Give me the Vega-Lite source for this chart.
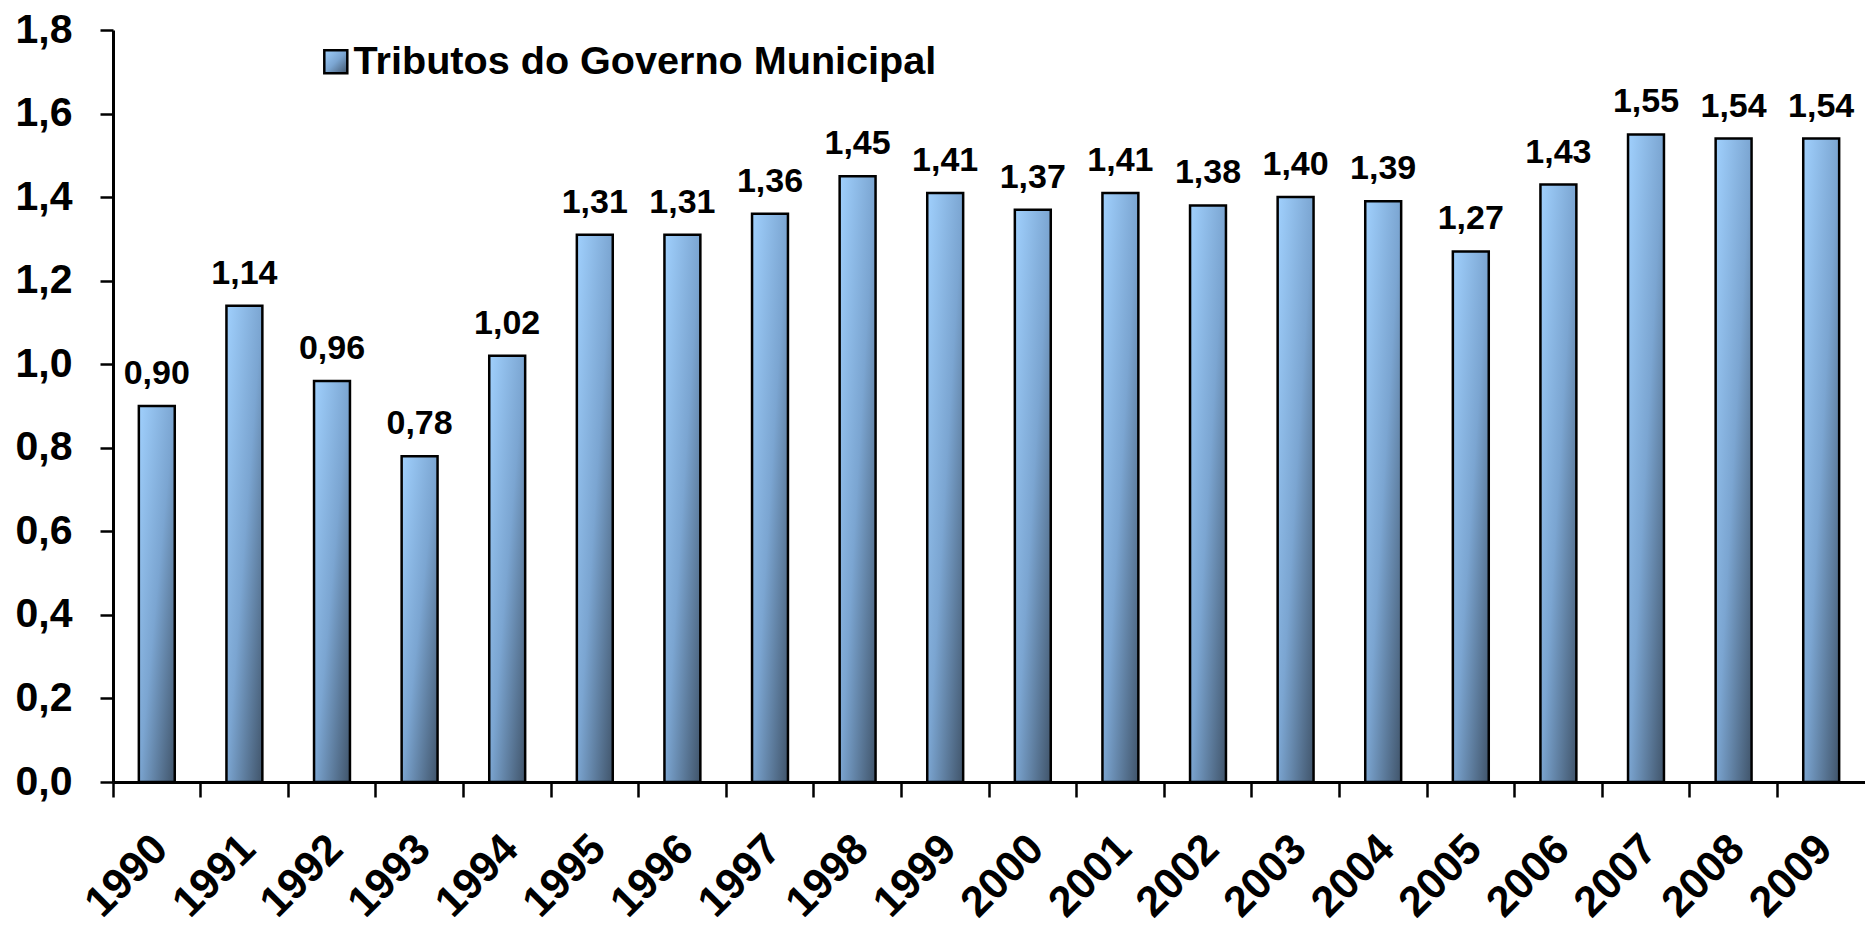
{
  "$schema": "https://vega.github.io/schema/vega-lite/v6.json",
  "width": 1752,
  "height": 752,
  "autosize": {"type": "none"},
  "padding": {"left": 113, "top": 30, "right": 0, "bottom": 148},
  "background": "white",
  "config": {
    "locale": {"number": {"decimal": ",", "thousands": ".", "grouping": [3], "currency": ["R$", ""]}},
    "view": {"stroke": null},
    "font": "Liberation Sans",
    "axis": {
      "domainColor": "#000000",
      "domainWidth": 3,
      "tickColor": "#000000",
      "tickWidth": 2.5,
      "labelFont": "Liberation Sans",
      "labelFontWeight": "bold",
      "labelColor": "#000000",
      "grid": false,
      "title": null
    }
  },
  "data": {
    "values": [
      {"ano": "1990", "valor": 0.90, "serie": "Tributos do Governo Municipal"},
      {"ano": "1991", "valor": 1.14, "serie": "Tributos do Governo Municipal"},
      {"ano": "1992", "valor": 0.96, "serie": "Tributos do Governo Municipal"},
      {"ano": "1993", "valor": 0.78, "serie": "Tributos do Governo Municipal"},
      {"ano": "1994", "valor": 1.02, "serie": "Tributos do Governo Municipal"},
      {"ano": "1995", "valor": 1.31, "serie": "Tributos do Governo Municipal"},
      {"ano": "1996", "valor": 1.31, "serie": "Tributos do Governo Municipal"},
      {"ano": "1997", "valor": 1.36, "serie": "Tributos do Governo Municipal"},
      {"ano": "1998", "valor": 1.45, "serie": "Tributos do Governo Municipal"},
      {"ano": "1999", "valor": 1.41, "serie": "Tributos do Governo Municipal"},
      {"ano": "2000", "valor": 1.37, "serie": "Tributos do Governo Municipal"},
      {"ano": "2001", "valor": 1.41, "serie": "Tributos do Governo Municipal"},
      {"ano": "2002", "valor": 1.38, "serie": "Tributos do Governo Municipal"},
      {"ano": "2003", "valor": 1.40, "serie": "Tributos do Governo Municipal"},
      {"ano": "2004", "valor": 1.39, "serie": "Tributos do Governo Municipal"},
      {"ano": "2005", "valor": 1.27, "serie": "Tributos do Governo Municipal"},
      {"ano": "2006", "valor": 1.43, "serie": "Tributos do Governo Municipal"},
      {"ano": "2007", "valor": 1.55, "serie": "Tributos do Governo Municipal"},
      {"ano": "2008", "valor": 1.54, "serie": "Tributos do Governo Municipal"},
      {"ano": "2009", "valor": 1.54, "serie": "Tributos do Governo Municipal"}
    ]
  },
  "encoding": {
    "x": {
      "field": "ano",
      "type": "ordinal",
      "scale": {"paddingInner": 0, "paddingOuter": 0},
      "axis": {
        "labelAngle": -45,
        "labelAlign": "right",
        "labelBaseline": "middle",
        "labelFontSize": 43,
        "tickSize": 15,
        "labelPadding": 45,
        "bandPosition": 0,
        "labelOffset": 4
      }
    },
    "y": {
      "field": "valor",
      "type": "quantitative",
      "scale": {"domain": [0, 1.8], "nice": false},
      "axis": {
        "values": [0, 0.2, 0.4, 0.6, 0.8, 1.0, 1.2, 1.4, 1.6, 1.8],
        "format": ".1f",
        "labelFontSize": 41,
        "tickSize": 13,
        "labelPadding": 28
      }
    }
  },
  "layer": [
    {
      "mark": {
        "type": "bar",
        "width": {"band": 0.41},
        "strokeWidth": 2.5,
        "fill": {
          "gradient": "linear",
          "x1": 0, "y1": 0, "x2": 1, "y2": 1,
          "stops": [
            {"offset": 0, "color": "#A0D0FD"},
            {"offset": 0.5, "color": "#7BA5D1"},
            {"offset": 1, "color": "#40546A"}
          ]
        }
      },
      "encoding": {
        "stroke": {
          "field": "serie",
          "type": "nominal",
          "scale": {"range": ["#000000"]},
          "legend": {
            "orient": "none",
            "legendX": 203,
            "legendY": 12,
            "title": null,
            "padding": 0,
            "symbolType": "square",
            "symbolSize": 529,
            "symbolStrokeWidth": 2.5,
            "labelFont": "Liberation Sans",
            "labelFontSize": 39.6,
            "labelFontWeight": "bold",
            "labelColor": "#000000",
            "labelOffset": -2,
            "labelLimit": 1000,
            "encode": {
              "symbols": {
                "update": {
                  "fill": {
                    "value": {
                      "gradient": "linear",
                      "x1": 0, "y1": 0, "x2": 1, "y2": 1,
                      "stops": [
                        {"offset": 0, "color": "#A0D0FD"},
                        {"offset": 1, "color": "#5A84B2"}
                      ]
                    }
                  },
                  "fillOpacity": {"value": 1},
                  "stroke": {"value": "#000000"}
                }
              }
            }
          }
        }
      }
    },
    {
      "mark": {
        "type": "text",
        "baseline": "alphabetic",
        "dy": -22,
        "fontSize": 34,
        "fontWeight": "bold",
        "font": "Liberation Sans",
        "color": "#000000"
      },
      "encoding": {
        "text": {"field": "valor", "type": "quantitative", "format": ".2f"}
      }
    }
  ]
}
